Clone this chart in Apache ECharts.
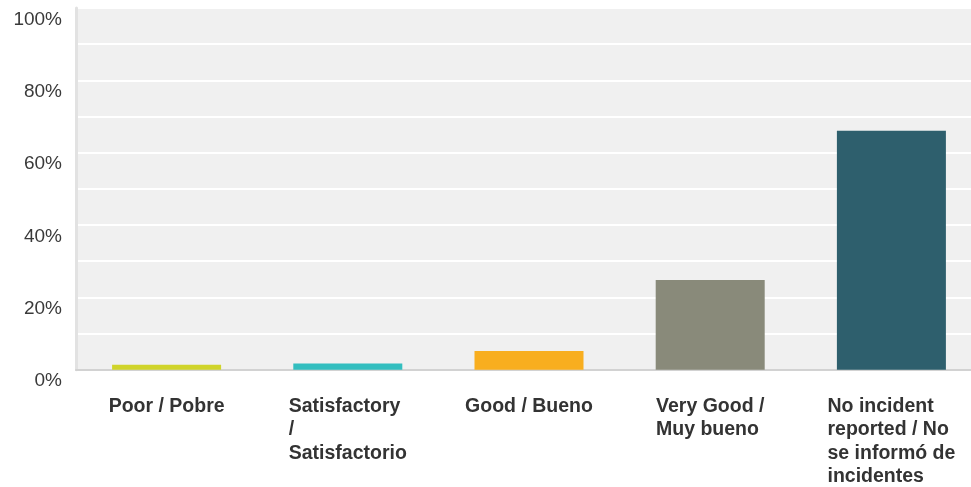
<!DOCTYPE html>
<html>
<head>
<meta charset="utf-8">
<script src="https://cdn.jsdelivr.net/npm/echarts@6/dist/echarts.min.js"></script>
<style>
html,body{margin:0;padding:0;background:#fff;overflow:hidden;width:971px;height:487px;}
#chart{width:982px;height:487px;}
</style>
</head>
<body>
<div id="chart"></div>
<script>
var categories = [
  "Poor / Pobre",
  "Satisfactory\n/\nSatisfactorio",
  "Good / Bueno",
  "Very Good /\nMuy bueno",
  "No incident\nreported / No\nse informó de\nincidentes"
];
var values = [1.4, 1.7, 5.2, 24.8, 66.1];
var colors = ["#d0d42a", "#33bebf", "#f8ae1f", "#898a7a", "#2e5f6d"];
var yTicks = [0, 20, 40, 60, 80, 100];

var chart = echarts.init(document.getElementById('chart'), null, {renderer: 'canvas'});
chart.setOption({
  animation: false,
  grid: {
    left: 76, top: 8, right: 0, bottom: 116,
    show: true, backgroundColor: '#f0f0f0', borderWidth: 0
  },
  xAxis: {
    type: 'category',
    data: categories,
    axisTick: {show: false},
    axisLine: {show: true, lineStyle: {color: '#d2d2d2', width: 2}},
    axisLabel: {
      interval: 0,
      margin: 25,
      align: 'center',
      verticalAlign: 'top',
      formatter: function (v) {
        return v.split('\n').map(function (l) { return '{a|' + l + '}'; }).join('\n');
      },
      rich: {
        a: {
          fontFamily: 'Liberation Sans, Arial, sans-serif',
          fontSize: 19.5,
          fontWeight: 'bold',
          color: '#333333',
          align: 'left',
          lineHeight: 23.5
        }
      }
    }
  },
  yAxis: {
    type: 'value',
    min: yTicks[0],
    max: yTicks[yTicks.length - 1],
    interval: 20,
    axisLine: {show: true, lineStyle: {color: '#e2e2e2', width: 3}},
    axisTick: {show: false},
    splitLine: {show: true, lineStyle: {color: '#ffffff', width: 2}},
    minorTick: {show: false, splitNumber: 2},
    minorSplitLine: {show: true, lineStyle: {color: '#ffffff', width: 2}},
    axisLabel: {
      margin: 14,
      verticalAlign: 'top',
      padding: [2, 0, 0, 0],
      fontFamily: 'Liberation Sans, Arial, sans-serif',
      fontSize: 19,
      color: '#3a3a3a',
      formatter: function (v) { return v + '%'; }
    }
  },
  series: [{
    type: 'bar',
    barWidth: 109,
    data: values.map(function (v, i) {
      return {value: v, itemStyle: {color: colors[i]}};
    })
  }]
});
</script>
</body>
</html>
